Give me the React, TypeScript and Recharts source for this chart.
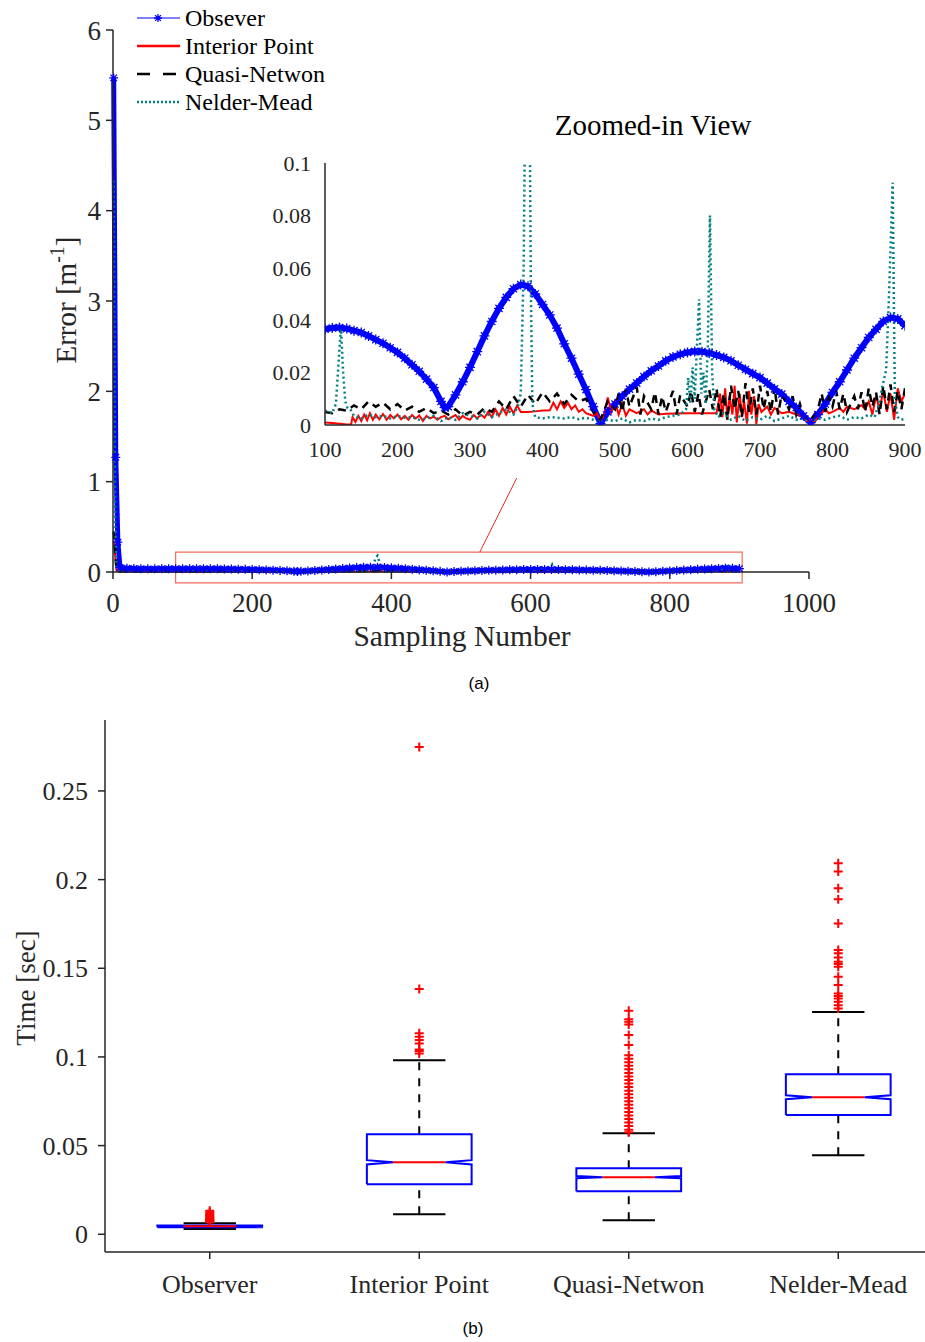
import React from "react";
import {
  LineChart,
  ComposedChart,
  Line,
  Scatter,
  XAxis,
  YAxis,
  ReferenceArea,
  ReferenceLine,
} from "recharts";

const SERIF = "'Liberation Serif', 'Times New Roman', serif";
const SANS = "'Liberation Sans', Arial, sans-serif";
const INK = "#262626";
const BLUE = "#0000ff";
const RED = "#ff0000";
const TEAL = "#008080";

// ---- (a) estimation error vs sampling number, [sample, error]
const observer: [number, number][] = [
  [1, 5.47], [4, 1.27], [7, 0.33], [10, 0.05], [20, 0.042], [30, 0.038], [40, 0.036], [50, 0.035],
  [60, 0.035], [70, 0.036], [80, 0.036], [90, 0.0365], [100, 0.0366], [110, 0.037], [120, 0.0372],
  [130, 0.0368], [140, 0.036], [150, 0.0353], [160, 0.034], [170, 0.0326], [180, 0.0312], [190, 0.0295],
  [200, 0.0277], [210, 0.0255], [220, 0.023], [230, 0.0205], [240, 0.0175], [250, 0.0143], [260, 0.009],
  [265, 0.0066], [270, 0.007], [280, 0.0115], [290, 0.0165], [300, 0.022], [310, 0.028], [320, 0.034],
  [330, 0.0395], [340, 0.0445], [350, 0.0487], [360, 0.052], [370, 0.0536], [380, 0.053], [390, 0.05],
  [400, 0.046], [410, 0.042], [420, 0.037], [430, 0.031], [440, 0.0255], [450, 0.0194], [460, 0.0135],
  [470, 0.007], [480, 0.0005], [490, 0.005], [500, 0.008], [510, 0.011], [520, 0.0137], [530, 0.016],
  [540, 0.0185], [550, 0.0207], [560, 0.0225], [570, 0.0245], [580, 0.026], [590, 0.027], [600, 0.0277],
  [610, 0.0281], [620, 0.028], [630, 0.0275], [640, 0.0267], [650, 0.0258], [660, 0.0245], [670, 0.0228],
  [680, 0.0212], [690, 0.0196], [700, 0.0181], [710, 0.016], [720, 0.0138], [730, 0.0118], [740, 0.009],
  [750, 0.0066], [760, 0.0035], [770, 0.0009], [780, 0.004], [790, 0.008], [800, 0.0124], [810, 0.0165],
  [820, 0.021], [830, 0.0255], [840, 0.0295], [850, 0.0334], [860, 0.0365], [870, 0.0395], [880, 0.041],
  [890, 0.0405], [900, 0.0379],
];

const interiorPoint: [number, number][] = [
  [1, 0.35], [5, 0.02], [10, 0.004], [20, 0.002], [30, 0.003], [40, 0.002], [50, 0.003], [60, 0.002],
  [70, 0.003], [80, 0.002], [90, 0.002], [100, 0.001], [110, 0.0008], [120, 0.0005], [130, 0.0002],
  [136, 0.0002], [138, 0.003], [142, 0.0012], [146, 0.0035], [150, 0.0015], [154, 0.004], [158, 0.0018],
  [162, 0.0045], [166, 0.002], [170, 0.004], [175, 0.0022], [180, 0.0042], [185, 0.002], [190, 0.0038],
  [195, 0.0025], [200, 0.004], [205, 0.0022], [210, 0.0035], [215, 0.002], [220, 0.0038], [225, 0.0025],
  [230, 0.0036], [235, 0.0015], [240, 0.0035], [245, 0.0025], [250, 0.0032], [255, 0.002], [260, 0.003],
  [265, 0.0035], [270, 0.0022], [275, 0.003], [280, 0.0038], [285, 0.002], [290, 0.0035], [295, 0.0025],
  [300, 0.002], [305, 0.0038], [310, 0.0025], [315, 0.004], [320, 0.0028], [325, 0.005], [330, 0.003],
  [335, 0.006], [340, 0.0035], [345, 0.0065], [350, 0.004], [355, 0.007], [360, 0.0045], [365, 0.0075],
  [370, 0.005], [380, 0.005], [390, 0.0052], [400, 0.0055], [410, 0.0056], [415, 0.0085], [420, 0.006],
  [425, 0.009], [430, 0.0065], [435, 0.0085], [440, 0.006], [445, 0.0075], [450, 0.005], [455, 0.006],
  [460, 0.0045], [465, 0.004], [470, 0.0035], [475, 0.0045], [480, 0.0015], [485, 0.004], [490, 0.0105],
  [495, 0.005], [500, 0.009], [505, 0.004], [510, 0.008], [515, 0.0035], [520, 0.006], [530, 0.0045],
  [540, 0.006], [545, 0.004], [550, 0.0055], [560, 0.004], [570, 0.0043], [600, 0.0045], [620, 0.0045],
  [640, 0.0045], [645, 0.012], [648, 0.003], [652, 0.014], [655, 0.002], [658, 0.011], [662, 0.004],
  [665, 0.015], [668, 0.001], [672, 0.012], [675, 0.003], [678, 0.009], [682, 0.0005], [685, 0.013],
  [688, 0.004], [692, 0.011], [695, 0.0003], [698, 0.008], [702, 0.005], [710, 0.007], [715, 0.004],
  [720, 0.0065], [730, 0.0045], [740, 0.005], [750, 0.004], [760, 0.003], [765, 0.0015], [770, 0.002],
  [775, 0.001], [780, 0.003], [790, 0.006], [795, 0.0045], [800, 0.005], [810, 0.0065], [815, 0.005],
  [820, 0.007], [830, 0.006], [840, 0.0075], [845, 0.006], [850, 0.009], [855, 0.004], [860, 0.011],
  [865, 0.006], [870, 0.013], [875, 0.005], [880, 0.012], [885, 0.002], [890, 0.014], [895, 0.009],
  [900, 0.012],
];

const quasiNewton: [number, number][] = [
  [1, 0.45], [5, 0.03], [10, 0.006], [20, 0.005], [30, 0.004], [40, 0.006], [50, 0.004], [60, 0.005],
  [70, 0.006], [80, 0.004], [90, 0.005], [100, 0.005], [110, 0.0045], [120, 0.006], [130, 0.0055],
  [140, 0.0075], [150, 0.006], [160, 0.009], [170, 0.007], [180, 0.0085], [190, 0.006], [200, 0.008],
  [210, 0.0055], [220, 0.007], [230, 0.005], [240, 0.0065], [250, 0.0045], [260, 0.0055], [270, 0.004],
  [280, 0.006], [290, 0.0035], [300, 0.005], [310, 0.004], [320, 0.0065], [330, 0.005], [340, 0.009],
  [350, 0.006], [360, 0.011], [370, 0.007], [380, 0.0115], [390, 0.008], [400, 0.0125], [410, 0.009],
  [420, 0.012], [430, 0.008], [440, 0.0115], [450, 0.009], [460, 0.01], [470, 0.005], [480, 0.002],
  [490, 0.009], [500, 0.006], [505, 0.012], [510, 0.005], [515, 0.0135], [520, 0.007], [530, 0.0145],
  [535, 0.004], [540, 0.011], [550, 0.006], [555, 0.0125], [560, 0.004], [565, 0.011], [570, 0.005],
  [580, 0.013], [585, 0.004], [590, 0.0115], [600, 0.007], [605, 0.013], [610, 0.005], [615, 0.012],
  [620, 0.004], [630, 0.0135], [635, 0.006], [640, 0.014], [645, 0.003], [650, 0.012], [655, 0.002],
  [660, 0.015], [665, 0.006], [670, 0.013], [675, 0.003], [680, 0.016], [685, 0.005], [690, 0.014],
  [695, 0.004], [700, 0.015], [705, 0.006], [710, 0.013], [715, 0.005], [720, 0.0145], [725, 0.004],
  [730, 0.012], [740, 0.006], [745, 0.011], [750, 0.004], [755, 0.008], [760, 0.003], [770, 0.002],
  [780, 0.006], [785, 0.012], [790, 0.005], [795, 0.0105], [800, 0.007], [805, 0.013], [810, 0.006],
  [815, 0.012], [820, 0.005], [830, 0.011], [835, 0.006], [840, 0.0125], [845, 0.005], [850, 0.014],
  [855, 0.007], [860, 0.0125], [865, 0.004], [870, 0.015], [875, 0.006], [880, 0.0155], [885, 0.005],
  [890, 0.013], [895, 0.006], [900, 0.014],
];

const nelderMead: [number, number][] = [
  [1, 4.33], [3, 0.6], [5, 0.05], [8, 0.006], [20, 0.004], [30, 0.005], [40, 0.003], [50, 0.004],
  [60, 0.005], [70, 0.003], [80, 0.004], [90, 0.005], [100, 0.0055], [105, 0.005], [110, 0.0045],
  [115, 0.008], [119, 0.025], [122, 0.0375], [125, 0.02], [128, 0.009], [131, 0.0065], [135, 0.006],
  [140, 0.0035], [150, 0.0025], [160, 0.004], [170, 0.003], [180, 0.0035], [190, 0.0025], [200, 0.0035],
  [210, 0.0028], [220, 0.003], [230, 0.002], [240, 0.0025], [250, 0.0035], [260, 0.0015], [270, 0.003],
  [280, 0.002], [290, 0.0045], [300, 0.0035], [310, 0.0025], [320, 0.005], [330, 0.003], [340, 0.0045],
  [350, 0.006], [360, 0.004], [366, 0.007], [370, 0.012], [374, 0.06], [377, 0.15], [380, 0.18],
  [382, 0.13], [384, 0.05], [386, 0.008], [390, 0.003], [400, 0.0025], [410, 0.003], [420, 0.0028],
  [430, 0.0025], [440, 0.003], [450, 0.0022], [460, 0.0028], [470, 0.002], [480, 0.001], [490, 0.002],
  [500, 0.0015], [510, 0.0025], [520, 0.001], [530, 0.002], [540, 0.0015], [550, 0.0025], [560, 0.002],
  [570, 0.003], [580, 0.0035], [590, 0.004], [598, 0.006], [601, 0.018], [604, 0.008], [607, 0.022],
  [610, 0.01], [613, 0.03], [616, 0.048], [619, 0.012], [622, 0.02], [625, 0.008], [628, 0.03],
  [631, 0.08], [634, 0.02], [637, 0.006], [642, 0.003], [650, 0.0045], [660, 0.002], [670, 0.0035],
  [680, 0.0015], [690, 0.003], [700, 0.002], [710, 0.0035], [720, 0.0015], [730, 0.0025], [740, 0.0035],
  [750, 0.002], [760, 0.0025], [770, 0.001], [780, 0.0025], [790, 0.002], [800, 0.003], [810, 0.0035],
  [820, 0.002], [830, 0.003], [840, 0.0025], [850, 0.004], [858, 0.003], [864, 0.008], [869, 0.015],
  [874, 0.021], [878, 0.05], [883, 0.0925], [886, 0.01], [890, 0.003], [895, 0.002], [900, 0.0025],
];

const mainXTicks = [0, 200, 400, 600, 800, 1000];
const mainYTicks = [0, 1, 2, 3, 4, 5, 6];
const insetXTicks = [100, 200, 300, 400, 500, 600, 700, 800, 900];
const insetYTicks = [0, 0.02, 0.04, 0.06, 0.08, 0.1];

// ---- (b) computation time per solver
const boxCategories = ["Observer", "Interior Point", "Quasi-Netwon", "Nelder-Mead"];
const boxLower = [0.0029, 0.0113, 0.0079, 0.0446];
const boxQ1 = [0.004, 0.0282, 0.0243, 0.0672];
const boxMedian = [0.0045, 0.0406, 0.0322, 0.0773];
const boxQ3 = [0.005, 0.0564, 0.0372, 0.0903];
const boxUpper = [0.0062, 0.0982, 0.057, 0.1253];
const boxNotch = [0.0001, 0.0012, 0.0006, 0.0011];
const boxOutliers: number[][] = [
  [0.0068, 0.0072, 0.0076, 0.008, 0.0085, 0.009, 0.0095, 0.0101, 0.0108, 0.0116, 0.0124, 0.0132],
  [0.2748, 0.1383, 0.1133, 0.1114, 0.1095, 0.1076, 0.1042, 0.1034, 0.102],
  [0.126, 0.1212, 0.1198, 0.1183, 0.1123, 0.1067, 0.101, 0.099, 0.097, 0.095, 0.093, 0.091, 0.089,
    0.087, 0.085, 0.083, 0.081, 0.079, 0.077, 0.075, 0.073, 0.071, 0.069, 0.067, 0.065, 0.063, 0.061,
    0.059, 0.0575],
  [0.2092, 0.2045, 0.1951, 0.1889, 0.1753, 0.1603, 0.1584, 0.1561, 0.1537, 0.1524, 0.1509, 0.1452,
    0.1405, 0.1358, 0.1343, 0.133, 0.1311, 0.1292, 0.1273],
];
const boxYTicks = [0, 0.05, 0.1, 0.15, 0.2, 0.25];

type Pt = { x: number; y: number | null };
const toPts = (arr: [number, number][]): Pt[] => arr.map(([x, y]) => ({ x, y }));
const insetPts = (arr: [number, number][]): Pt[] => toPts(arr.filter(([x]) => x >= 100));

// box geometry (in category units)
const BOX_HALF = 0.25;
const INNER_HALF = 0.125;
const gap = (x: number): Pt => ({ x, y: null });

const boxOutline: Pt[] = boxCategories.flatMap((_, i) => {
  const c = i + 1;
  const m = boxMedian[i];
  const n = boxNotch[i];
  return [
    { x: c - BOX_HALF, y: boxQ1[i] },
    { x: c - BOX_HALF, y: m - n },
    { x: c - INNER_HALF, y: m },
    { x: c - BOX_HALF, y: m + n },
    { x: c - BOX_HALF, y: boxQ3[i] },
    { x: c + BOX_HALF, y: boxQ3[i] },
    { x: c + BOX_HALF, y: m + n },
    { x: c + INNER_HALF, y: m },
    { x: c + BOX_HALF, y: m - n },
    { x: c + BOX_HALF, y: boxQ1[i] },
    { x: c - BOX_HALF, y: boxQ1[i] },
    gap(c),
  ];
});
const medianLines: Pt[] = boxCategories.flatMap((_, i) => [
  { x: i + 1 - INNER_HALF, y: boxMedian[i] },
  { x: i + 1 + INNER_HALF, y: boxMedian[i] },
  gap(i + 1),
]);
const whiskerLines: Pt[] = boxCategories.flatMap((_, i) => [
  { x: i + 1, y: boxQ3[i] },
  { x: i + 1, y: boxUpper[i] },
  gap(i + 1),
  { x: i + 1, y: boxLower[i] },
  { x: i + 1, y: boxQ1[i] },
  gap(i + 1),
]);
const capLines: Pt[] = boxCategories.flatMap((_, i) => [
  { x: i + 1 - INNER_HALF, y: boxUpper[i] },
  { x: i + 1 + INNER_HALF, y: boxUpper[i] },
  gap(i + 1),
  { x: i + 1 - INNER_HALF, y: boxLower[i] },
  { x: i + 1 + INNER_HALF, y: boxLower[i] },
  gap(i + 1),
]);
const outlierPts = boxOutliers.flatMap((vals, i) => vals.map((y) => ({ x: i + 1, y })));

const makeStar = (r: number) => (props: any) => {
  const { cx, cy, index } = props;
  if (cx == null || cy == null) return <g key={`s${index}`} />;
  const d = r * 0.72;
  return (
    <path
      key={`s${index}`}
      d={`M${cx - r},${cy}H${cx + r}M${cx},${cy - r}V${cy + r}M${cx - d},${cy - d}L${cx + d},${cy + d}M${cx - d},${cy + d}L${cx + d},${cy - d}`}
      stroke={BLUE}
      strokeWidth={1.3}
      fill="none"
    />
  );
};
const StarMain = makeStar(4.5);
const StarInset = makeStar(5);

const PlusShape = (props: any) => {
  const { cx, cy } = props;
  if (cx == null || cy == null) return <g />;
  const r = 4.5;
  return <path d={`M${cx - r},${cy}H${cx + r}M${cx},${cy - r}V${cy + r}`} stroke={RED} strokeWidth={2} fill="none" />;
};

const axisProps = {
  stroke: INK,
  axisLine: { stroke: INK, strokeWidth: 1.5 },
  tickLine: { stroke: INK, strokeWidth: 1.5 },
};

function ErrorSeries({ inset }: { inset: boolean }) {
  const pts = inset ? insetPts : toPts;
  return [
    <Line key="obs" data={pts(observer)} dataKey="y" stroke={BLUE} strokeWidth={inset ? 6 : 5} dot={inset ? StarInset : StarMain} activeDot={false} isAnimationActive={false} />,
    <Line key="ip" data={pts(interiorPoint)} dataKey="y" stroke={RED} strokeWidth={2} dot={false} activeDot={false} isAnimationActive={false} />,
    <Line key="qn" data={pts(quasiNewton)} dataKey="y" stroke="#000" strokeWidth={2.5} strokeDasharray="8 6" dot={false} activeDot={false} isAnimationActive={false} />,
    <Line key="nm" data={pts(nelderMead)} dataKey="y" stroke={TEAL} strokeWidth={2.5} strokeDasharray="2 3" dot={false} activeDot={false} isAnimationActive={false} />,
  ];
}

const legendRows = [
  { label: "Obsever", kind: "obs" },
  { label: "Interior Point", kind: "ip" },
  { label: "Quasi-Netwon", kind: "qn" },
  { label: "Nelder-Mead", kind: "nm" },
];

function Overlay() {
  return (
    <svg width={925} height={1342} style={{ position: "absolute", left: 0, top: 0, pointerEvents: "none" }}>
      {legendRows.map((r, i) => {
        const y = 18 + i * 28;
        return (
          <g key={r.label}>
            {r.kind === "obs" && (
              <>
                <line x1={137} x2={180} y1={y} y2={y} stroke={BLUE} strokeWidth={1.2} />
                <path d={`M154,${y}H162M158,${y - 4}V${y + 4}M155.1,${y - 2.9}L160.9,${y + 2.9}M155.1,${y + 2.9}L160.9,${y - 2.9}`} stroke={BLUE} strokeWidth={1.3} />
              </>
            )}
            {r.kind === "ip" && <line x1={137} x2={180} y1={y} y2={y} stroke={RED} strokeWidth={2.5} />}
            {r.kind === "qn" && <line x1={137} x2={180} y1={y} y2={y} stroke="#000" strokeWidth={2.5} strokeDasharray="13 13" />}
            {r.kind === "nm" && <line x1={137} x2={180} y1={y} y2={y} stroke={TEAL} strokeWidth={2.5} strokeDasharray="2 2" />}
            <text x={185} y={y + 8} fontFamily={SERIF} fontSize={24} fill="#000">
              {r.label}
            </text>
          </g>
        );
      })}
      <text x={653} y={135} textAnchor="middle" fontFamily={SERIF} fontSize={29} fill="#000">
        Zoomed-in View
      </text>
      <text x={462} y={646} textAnchor="middle" fontFamily={SERIF} fontSize={29.5} fill={INK}>
        Sampling Number
      </text>
      <text transform="translate(76,300) rotate(-90)" textAnchor="middle" fontFamily={SERIF} fontSize={29} fill={INK}>
        Error [m
        <tspan fontSize={20} dy={-12}>-1</tspan>
        <tspan dy={12}>]</tspan>
      </text>
      <text transform="translate(35,988) rotate(-90)" textAnchor="middle" fontFamily={SERIF} fontSize={27} fill={INK}>
        Time [sec]
      </text>
      <text x={479} y={689} textAnchor="middle" fontFamily={SANS} fontSize={17} fill="#000">
        (a)
      </text>
      <text x={473} y={1334} textAnchor="middle" fontFamily={SANS} fontSize={17} fill="#000">
        (b)
      </text>
    </svg>
  );
}

export default function App() {
  return (
    <div style={{ position: "absolute", left: 0, top: 0, width: 925, height: 1342, overflow: "hidden", background: "#fff" }}>
      {/* (a) main axes */}
      <div style={{ position: "absolute", left: 0, top: 0 }}>
        <LineChart width={925} height={660} margin={{ top: 30, right: 116, bottom: 48, left: 63 }}>
          <XAxis
            type="number"
            dataKey="x"
            domain={[0, 1000]}
            ticks={mainXTicks}
            interval={0}
            tickSize={7}
            tickMargin={14}
            height={40}
            tick={{ fill: INK, fontSize: 27, fontFamily: SERIF }}
            {...axisProps}
          />
          <YAxis
            type="number"
            domain={[0, 6]}
            ticks={mainYTicks}
            interval={0}
            tickSize={7}
            tickMargin={5}
            width={50}
            tick={{ fill: INK, fontSize: 27, fontFamily: SERIF }}
            {...axisProps}
          />
          {ErrorSeries({ inset: false })}
          <ReferenceArea x1={90} x2={904} y1={-0.12} y2={0.22} ifOverflow="visible" fill="none" stroke="#f26c5a" strokeWidth={1.2} />
          <ReferenceLine segment={[{ x: 527, y: 0.22 }, { x: 580, y: 1.04 }]} ifOverflow="visible" stroke="#e8302a" strokeWidth={1} />
        </LineChart>
      </div>

      {/* (a) zoomed-in inset */}
      <div style={{ position: "absolute", left: 245, top: 143 }}>
        <LineChart width={690} height={330} margin={{ top: 20, right: 30, bottom: 13, left: 10 }}>
          <XAxis
            type="number"
            dataKey="x"
            domain={[100, 900]}
            allowDataOverflow
            ticks={insetXTicks}
            interval={0}
            tickSize={4}
            tickMargin={12}
            height={35}
            tick={{ fill: INK, fontSize: 22, fontFamily: SERIF }}
            {...axisProps}
            tickLine={false}
          />
          <YAxis
            type="number"
            domain={[0, 0.1]}
            allowDataOverflow
            ticks={insetYTicks}
            interval={0}
            tickSize={4}
            tickMargin={10}
            width={70}
            tick={{ fill: INK, fontSize: 22, fontFamily: SERIF }}
            {...axisProps}
            tickLine={false}
          />
          {ErrorSeries({ inset: true })}
        </LineChart>
      </div>

      {/* (b) box plot of solver time */}
      <div style={{ position: "absolute", left: 0, top: 700 }}>
        <ComposedChart width={960} height={600} margin={{ top: 20, right: 17, bottom: 8, left: 20 }}>
          <XAxis
            type="number"
            dataKey="x"
            domain={[0.5, 4.5]}
            ticks={[1, 2, 3, 4]}
            interval={0}
            tickFormatter={(v: number) => boxCategories[v - 1]}
            tickSize={7}
            tickMargin={16}
            height={40}
            tick={{ fill: INK, fontSize: 26, fontFamily: SERIF }}
            {...axisProps}
          />
          <YAxis
            type="number"
            domain={[-0.01, 0.29]}
            ticks={boxYTicks}
            interval={0}
            tickSize={7}
            tickMargin={10}
            width={85}
            tick={{ fill: INK, fontSize: 26, fontFamily: SERIF }}
            {...axisProps}
          />
          <Line data={whiskerLines} dataKey="y" stroke="#000" strokeWidth={2} strokeDasharray="8 8" dot={false} activeDot={false} isAnimationActive={false} />
          <Line data={capLines} dataKey="y" stroke="#000" strokeWidth={2} dot={false} activeDot={false} isAnimationActive={false} />
          <Line data={boxOutline} dataKey="y" stroke={BLUE} strokeWidth={2} dot={false} activeDot={false} isAnimationActive={false} />
          <Line data={medianLines} dataKey="y" stroke={RED} strokeWidth={2} dot={false} activeDot={false} isAnimationActive={false} />
          <Scatter data={outlierPts} dataKey="y" shape={PlusShape} isAnimationActive={false} />
        </ComposedChart>
      </div>

      <Overlay />
    </div>
  );
}
